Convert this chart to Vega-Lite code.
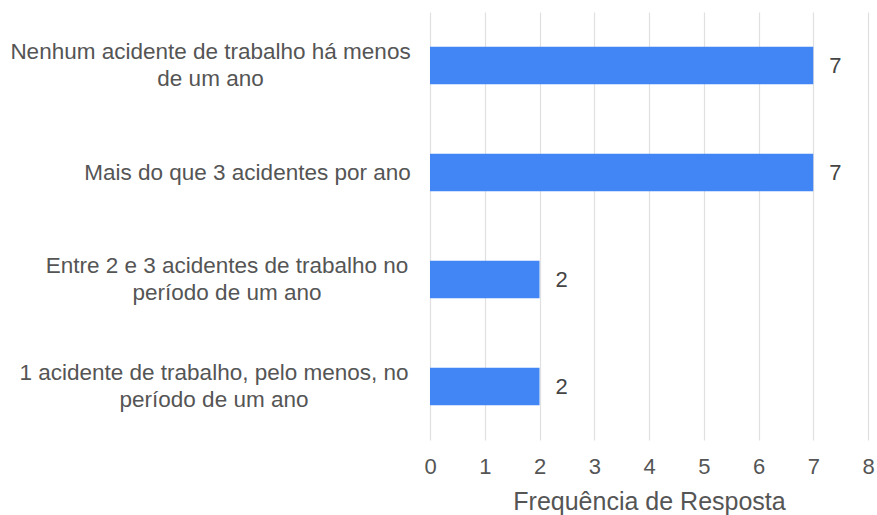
{
  "$schema": "https://vega.github.io/schema/vega-lite/v6.json",
  "width": 438,
  "height": 428,
  "autosize": {"type": "none"},
  "padding": {"left": 430, "top": 12, "right": 9, "bottom": 75},
  "background": "white",
  "config": {
    "view": {"stroke": null},
    "font": "Liberation Sans"
  },
  "data": {
    "values": [
      {"categoria": "Nenhum acidente de trabalho há menos|de um ano", "frequencia": 7},
      {"categoria": "Mais do que 3 acidentes por ano", "frequencia": 7},
      {"categoria": "Entre 2 e 3 acidentes de trabalho no|período de um ano", "frequencia": 2},
      {"categoria": "1 acidente de trabalho, pelo menos, no|período de um ano", "frequencia": 2}
    ]
  },
  "encoding": {
    "y": {
      "field": "categoria",
      "type": "nominal",
      "sort": null,
      "scale": {"paddingInner": 0.65, "paddingOuter": 0.325},
      "axis": {
        "title": null,
        "domain": false,
        "ticks": false,
        "labelAlign": "center",
        "labelPadding": {
          "condition": [
            {"test": "indexof(datum.value, 'Nenhum') == 0", "value": 220},
            {"test": "indexof(datum.value, 'Mais') == 0", "value": 183},
            {"test": "indexof(datum.value, 'Entre') == 0", "value": 203.5}
          ],
          "value": 216.5
        },
        "labelOffset": {
          "condition": {"test": "indexof(datum.value, '|') >= 0", "value": -13.5},
          "value": 0
        },
        "labelFontSize": 22.5,
        "labelColor": "#555555",
        "labelLineHeight": 27,
        "labelLimit": 0,
        "labelExpr": "split(datum.label, '|')"
      }
    },
    "x": {
      "field": "frequencia",
      "type": "quantitative",
      "scale": {"domain": [0, 8]},
      "axis": {
        "title": "Frequência de Resposta",
        "titleFontSize": 25,
        "titleFontWeight": "normal",
        "titleColor": "#555555",
        "titlePadding": 12,
        "values": [0, 1, 2, 3, 4, 5, 6, 7, 8],
        "labelOverlap": false,
        "labelFlush": false,
        "domain": false,
        "ticks": false,
        "labelPadding": 16,
        "labelFontSize": 22,
        "labelColor": "#555555",
        "gridColor": "#e0e0e0",
        "gridWidth": 1.2
      }
    }
  },
  "layer": [
    {"mark": {"type": "bar", "color": "#4285F4"}},
    {
      "mark": {"type": "text", "align": "left", "dx": 16, "fontSize": 22, "color": "#444444"},
      "encoding": {"text": {"field": "frequencia", "type": "quantitative"}}
    }
  ]
}
